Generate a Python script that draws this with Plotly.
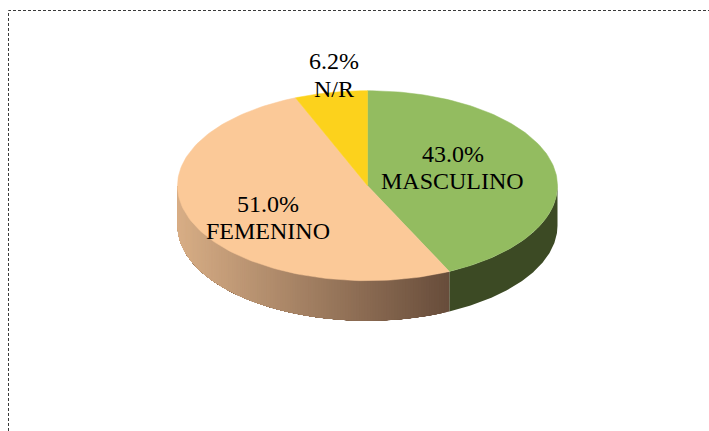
from __future__ import annotations

import numpy as np
import plotly.graph_objects as go

CATEGORIES = ["MASCULINO", "FEMENINO", "N/R"]
PERCENTS = [43.0, 51.0, 6.2]
PERCENT_LABELS = ["43.0%", "51.0%", "6.2%"]

TOP_COLORS = ["#93BC60", "#FBC998", "#FCD21C"]
SIDE_LEFT = (216, 174, 134)
SIDE_RIGHT = (104, 77, 59)
SIDE_GREEN = "#3C4A24"
FONT = "Liberation Serif"

# pie geometry, in page pixels
CX, CY = 367.5, 185.7
RX, RY = 190.0, 95.0
DEPTH = 40.0

# centre of the percent line and the name line of each label
LABEL_POS = {
    "MASCULINO": (452.5, 153.5, 180.5),
    "FEMENINO": (267.5, 204.0, 231.0),
    "N/R": (333.5, 61.0, 88.5),
}


def rim(start: float, stop: float, steps: int = 120) -> tuple[np.ndarray, np.ndarray]:
    """Puntos del borde de la elipse, angulo en horario desde arriba."""
    angles = np.radians(np.linspace(start, stop, steps))
    return CX + RX * np.sin(angles), CY - RY * np.cos(angles)


def add_poly(fig: go.Figure, x, y, color: str, name: str | None = None, edge: float = 0) -> None:
    fig.add_scatter(
        x=list(x),
        y=list(y),
        mode="lines",
        fill="toself",
        fillcolor=color,
        line={"color": color, "width": edge},
        hoverinfo="text" if name else "skip",
        text=name,
        showlegend=False,
    )


def add_wall(fig: go.Figure, start: float, stop: float, color: str) -> None:
    rim_x, rim_y = rim(start, stop)
    add_poly(
        fig,
        np.concatenate([rim_x, rim_x[::-1]]),
        np.concatenate([rim_y, rim_y[::-1] + DEPTH]),
        color,
    )


shares = np.array(PERCENTS) / sum(PERCENTS) * 360
edges = np.concatenate([[0], np.cumsum(shares)])

fig = go.Figure()

# wall of the green slice, from the right edge to the slice boundary
add_wall(fig, 90, edges[1], SIDE_GREEN)

# wall of the peach slice: each layer runs on to the left end, so no seams show
x_right = rim(edges[1], edges[1], 1)[0][0]
x_left = CX - RX
for angle in np.linspace(edges[1], 270, 140, endpoint=False):
    x_here = rim(angle, angle, 1)[0][0]
    t = (x_here - x_left) / (x_right - x_left)
    rgb = [round(lo + (hi - lo) * t) for lo, hi in zip(SIDE_LEFT, SIDE_RIGHT)]
    add_wall(fig, angle, 270, f"rgb({rgb[0]},{rgb[1]},{rgb[2]})")

# top face
for i, category in enumerate(CATEGORIES):
    rim_x, rim_y = rim(edges[i], edges[i + 1])
    add_poly(
        fig,
        np.concatenate([[CX], rim_x, [CX]]),
        np.concatenate([[CY], rim_y, [CY]]),
        TOP_COLORS[i],
        f"{category}: {PERCENT_LABELS[i]}",
        edge=0.5,
    )

for category, percent in zip(CATEGORIES, PERCENT_LABELS):
    x, y_percent, y_name = LABEL_POS[category]
    for text, y in ((percent, y_percent), (category, y_name)):
        fig.add_annotation(
            x=x,
            y=y,
            text=text,
            showarrow=False,
            font={"family": FONT, "size": 24, "color": "#000000"},
        )

# dotted frame, open at the right and bottom of the crop
fig.add_shape(
    type="path",
    path="M 8.5 431 L 8.5 10.5 L 709 10.5",
    line={"color": "#3a3a3a", "width": 1, "dash": "3px,2px"},
)

fig.update_xaxes(range=[0, 709], visible=False, fixedrange=True)
fig.update_yaxes(range=[431, 0], visible=False, fixedrange=True)
fig.update_layout(
    width=709,
    height=431,
    margin={"l": 0, "r": 0, "t": 0, "b": 0},
    paper_bgcolor="#ffffff",
    plot_bgcolor="#ffffff",
    showlegend=False,
)

fig.write_html(
    "out.html",
    config={"displayModeBar": False},
    post_script="document.body.style.margin = '0'; document.body.style.overflow = 'hidden';",
)
